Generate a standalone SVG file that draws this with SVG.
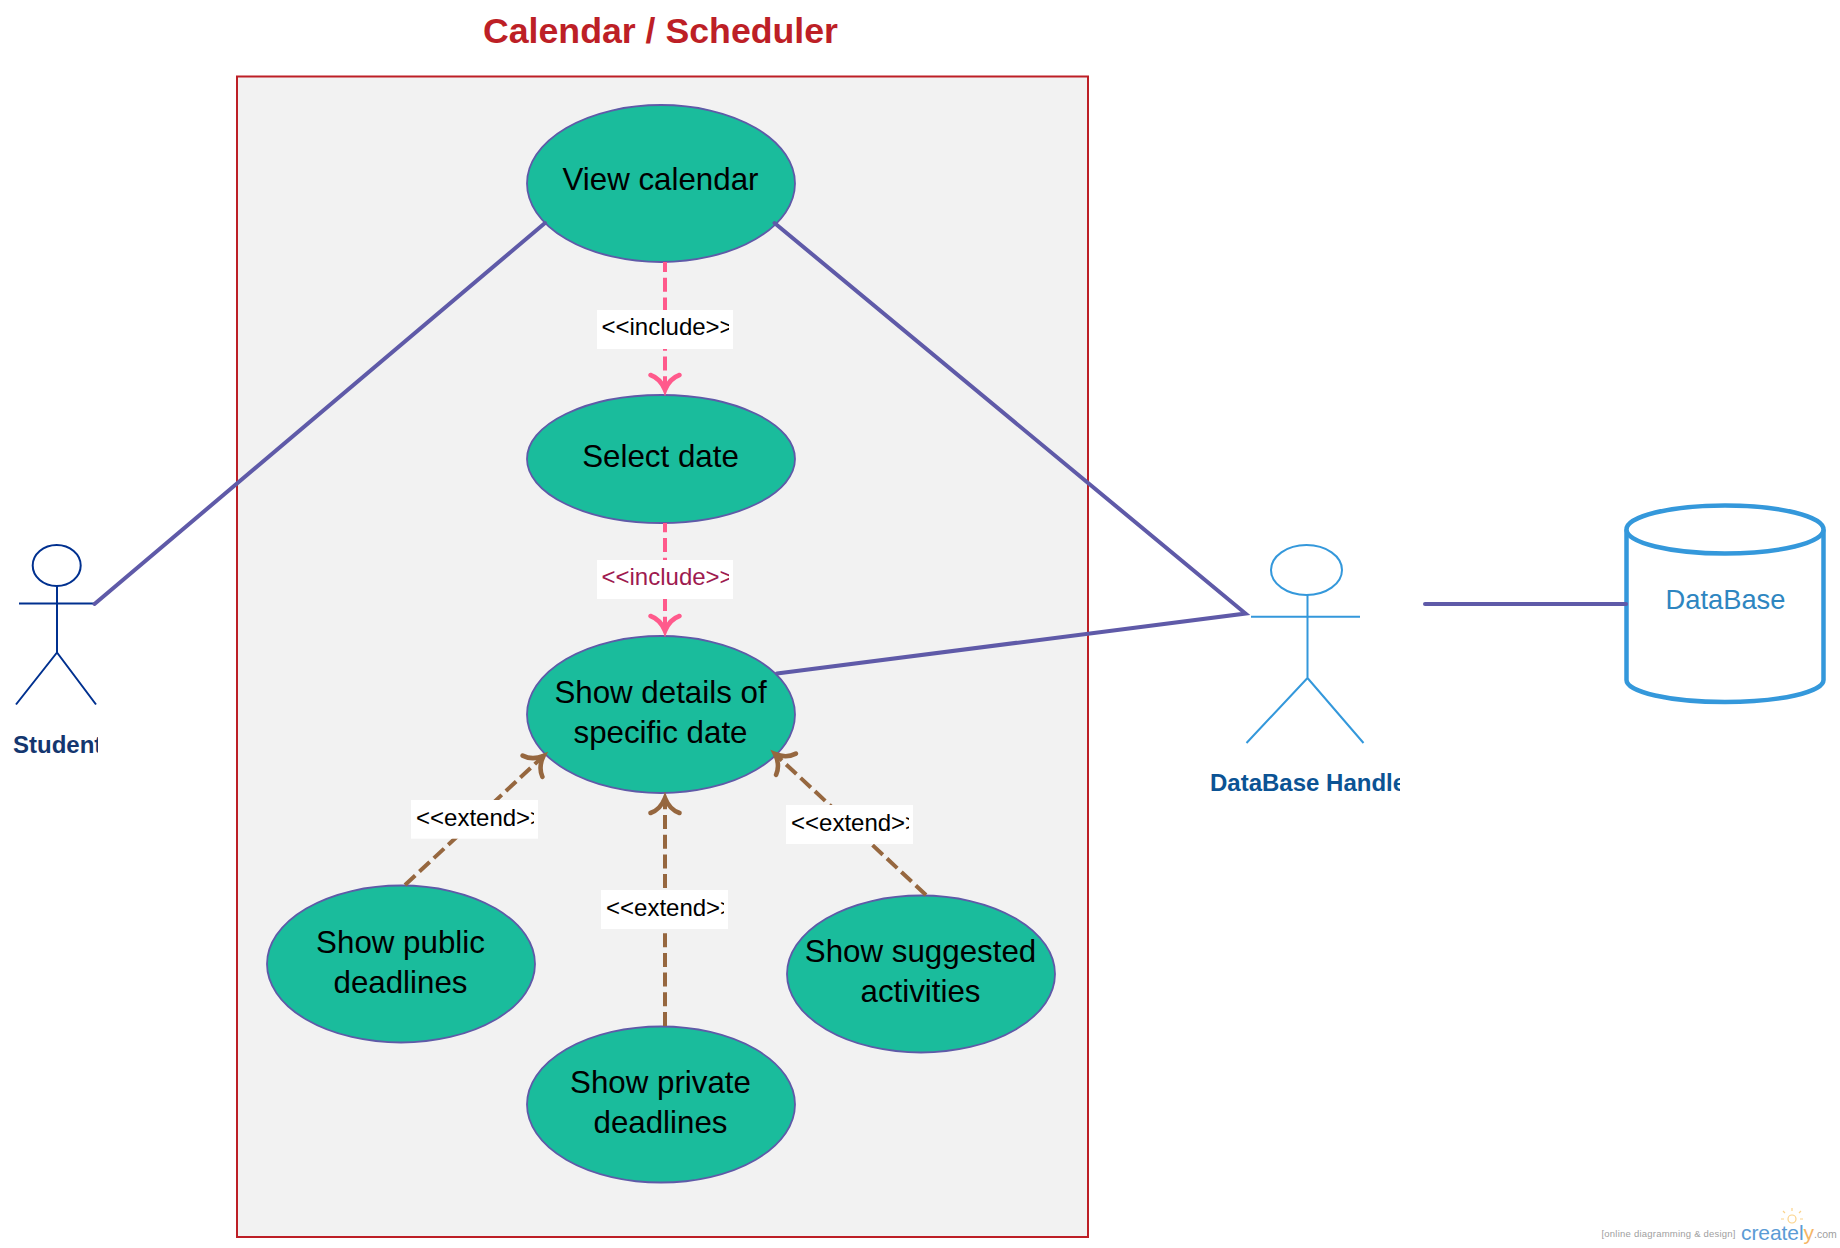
<svg xmlns="http://www.w3.org/2000/svg" width="1840" height="1248" viewBox="0 0 1840 1248">
<style>
text{font-family:"Liberation Sans",Arial,sans-serif}
.uc{fill:#1abc9c;stroke:#5f5aa8;stroke-width:1.8}
.ut{font-size:31.3px;fill:#000;text-anchor:middle}
.assoc{fill:none;stroke:#5f5aa8;stroke-width:4;stroke-linecap:round}
.inc{fill:none;stroke:#ff5a8c;stroke-width:4;stroke-dasharray:14 5.7;marker-end:url(#ah-pink)}
.ext{fill:none;stroke:#96673f;stroke-width:4;stroke-dasharray:14 5.7;marker-end:url(#ah-brown)}
.lb{fill:#fff}
.lt{font-size:24px;fill:#000}
.a1{fill:none;stroke:#00308f;stroke-width:2}
.a2{fill:none;stroke:#3498db;stroke-width:2}
.al{font-size:24px;font-weight:bold}
</style>
<defs>
<marker id="ah-pink" markerUnits="userSpaceOnUse" viewBox="-24 -24 48 48" markerWidth="48" markerHeight="48" refX="0" refY="0" orient="auto"><path d="M-15 -14.5 Q-11.5 -4.5 0 0 Q-11.5 4.5 -15 14.5" fill="none" stroke="#ff5a8c" stroke-width="4.6" stroke-linecap="round"/></marker>
<marker id="ah-brown" markerUnits="userSpaceOnUse" viewBox="-24 -24 48 48" markerWidth="48" markerHeight="48" refX="0" refY="0" orient="auto"><path d="M-15 -14.5 Q-11.5 -4.5 0 0 Q-11.5 4.5 -15 14.5" fill="none" stroke="#96673f" stroke-width="4.6" stroke-linecap="round"/></marker>
<clipPath id="c-i1"><rect x="597" y="310" width="132" height="39"/></clipPath>
<clipPath id="c-i2"><rect x="597" y="560" width="132" height="39"/></clipPath>
<clipPath id="c-e1"><rect x="411" y="800" width="123" height="39"/></clipPath>
<clipPath id="c-e2"><rect x="601" y="890" width="123" height="39"/></clipPath>
<clipPath id="c-e3"><rect x="786" y="805" width="123" height="39"/></clipPath>
<clipPath id="c-s"><rect x="0" y="725" width="98" height="40"/></clipPath>
<clipPath id="c-d"><rect x="1200" y="765" width="200" height="40"/></clipPath>
</defs>
<rect width="1840" height="1248" fill="#fff"/>
<g id="system">
<rect x="237" y="76.5" width="851" height="1160.5" fill="#f2f2f2" stroke="#bd1f26" stroke-width="2"/>
<text x="660.5" y="42.5" font-size="35.7" font-weight="bold" fill="#bd1f26" text-anchor="middle">Calendar / Scheduler</text>
</g>
<g id="view-calendar"><ellipse class="uc" cx="661" cy="183.5" rx="134" ry="78.5"/><text class="ut" x="660.5" y="190">View calendar</text></g>
<g id="select-date"><ellipse class="uc" cx="661" cy="459" rx="134" ry="64"/><text class="ut" x="660.5" y="467">Select date</text></g>
<g id="show-details"><ellipse class="uc" cx="661" cy="714.5" rx="134" ry="78.5"/><text class="ut" x="660.5" y="702.5">Show details of</text><text class="ut" x="660.5" y="742.5">specific date</text></g>
<g id="show-public"><ellipse class="uc" cx="401" cy="964" rx="134" ry="78.5"/><text class="ut" x="400.5" y="953">Show public</text><text class="ut" x="400.5" y="993">deadlines</text></g>
<g id="show-private"><ellipse class="uc" cx="661" cy="1104.5" rx="134" ry="78"/><text class="ut" x="660.5" y="1092.5">Show private</text><text class="ut" x="660.5" y="1132.5">deadlines</text></g>
<g id="show-suggested"><ellipse class="uc" cx="921" cy="974" rx="134" ry="78.5"/><text class="ut" x="920.5" y="961.5">Show suggested</text><text class="ut" x="920.5" y="1001.5">activities</text></g>
<g id="student">
<ellipse class="a1" cx="56.7" cy="565.5" rx="24" ry="20.5"/>
<path class="a1" d="M57 586V652.5M19 603.5H94M57 652.5L16 704.5M57 652.5L96 704.5"/>
<text class="al" x="13" y="753" fill="#14366f" clip-path="url(#c-s)">Student</text>
</g>
<g id="database-handler">
<ellipse class="a2" cx="1306.5" cy="570" rx="35.5" ry="25"/>
<path class="a2" d="M1307.5 594V678M1251 616.7H1360M1307.5 678L1246.5 743M1307.5 678L1363.5 743"/>
<text class="al" x="1210" y="791" fill="#0b5394" clip-path="url(#c-d)">DataBase Handler</text>
</g>
<g id="database">
<path d="M1626.5 529.5V680C1626.5 692 1670 702 1725 702C1780 702 1823.5 692 1823.5 680V529.5" fill="#fff" stroke="#3498db" stroke-width="4.5"/>
<ellipse cx="1725" cy="529.5" rx="98.5" ry="24" fill="#fff" stroke="#3498db" stroke-width="4.5"/>
<text x="1725.5" y="609" font-size="27.3" fill="#2e86c1" text-anchor="middle">DataBase</text>
</g>
<g id="connectors">
<path class="assoc" d="M545 223L94.5 604"/>
<path class="assoc" d="M774.5 223L1245.5 613.5L777 673.5"/>
<path class="assoc" d="M1425 604H1626"/>
<path class="inc" stroke-dashoffset="4" d="M665 262V390"/>
<rect class="lb" x="597" y="310" width="136" height="39"/>
<text class="lt" x="601.5" y="335" clip-path="url(#c-i1)">&lt;&lt;include&gt;&gt;</text>
<path class="inc" stroke-dashoffset="4.7" d="M665 523V631"/>
<rect class="lb" x="597" y="560" width="136" height="39"/>
<text class="lt" x="601.5" y="585" style="fill:#9e1a4f" clip-path="url(#c-i2)">&lt;&lt;include&gt;&gt;</text>
<path class="ext" d="M405 885L543.5 756"/>
<rect class="lb" x="411" y="800" width="127" height="38.7"/>
<text class="lt" x="416" y="825.5" clip-path="url(#c-e1)">&lt;&lt;extend&gt;&gt;</text>
<path class="ext" d="M665 1026V798"/>
<rect class="lb" x="601" y="890" width="127" height="39"/>
<text class="lt" x="606" y="915.5" clip-path="url(#c-e2)">&lt;&lt;extend&gt;&gt;</text>
<path class="ext" d="M926 895L775 754"/>
<rect class="lb" x="786" y="805" width="127" height="39"/>
<text class="lt" x="791" y="830.5" clip-path="url(#c-e3)">&lt;&lt;extend&gt;&gt;</text>
</g>
<g id="watermark">
<text x="1601.5" y="1236.5" font-size="9.5" fill="#a0a0a0" textLength="134">[online diagramming &amp; design]</text>
<text x="1741" y="1240" font-size="21" font-family="Open Sans" fill="#5b9bd5" textLength="73">createl<tspan fill="#f5b565">y</tspan></text>
<text x="1814" y="1238" font-size="10.5" fill="#a0a0a0">.com</text>
<g fill="none" stroke="#fbd38a" stroke-width="1.2"><circle cx="1792" cy="1219" r="4"/><path d="M1792 1211V1208M1785 1213L1783 1211M1799 1213L1801 1211M1784 1219H1781M1800 1219H1803"/></g>
</g>
</svg>
